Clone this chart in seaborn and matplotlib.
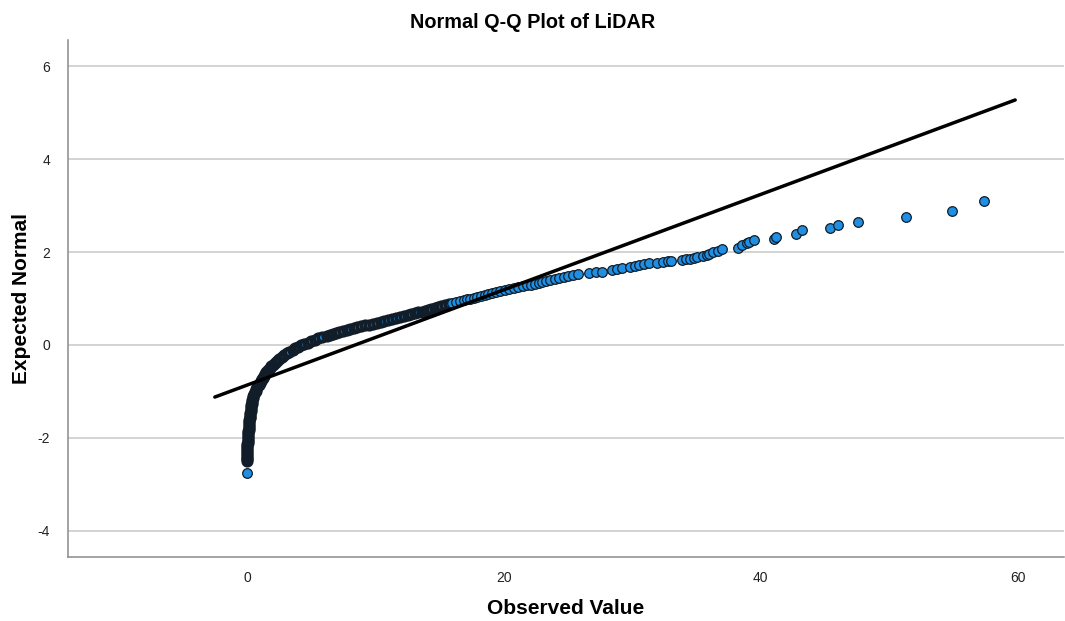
import matplotlib
matplotlib.use("Agg")
import matplotlib.pyplot as plt
import seaborn as sns
import pandas as pd

# ---- data ----
# dense lower band of points (observed value, expected normal)
obs_band = [0.00, 0.00, 0.01, 0.01, 0.01, 0.02, 0.02, 0.03, 0.03, 0.04, 0.05,
            0.06, 0.08, 0.09, 0.10, 0.11, 0.12, 0.13, 0.14, 0.15, 0.17, 0.18,
            0.19, 0.21, 0.23, 0.25, 0.27, 0.29, 0.31, 0.33, 0.35, 0.37, 0.39,
            0.42, 0.46, 0.50, 0.56, 0.61, 0.67, 0.74, 0.82, 0.90, 0.98, 1.06,
            1.14, 1.22, 1.31, 1.41, 1.52, 1.64, 1.76, 1.90, 2.04, 2.20, 2.36,
            2.53, 2.72, 2.90, 3.10, 3.30, 3.55, 3.75, 3.98, 4.22, 4.47, 4.73,
            5.00, 5.27, 5.55, 5.87, 6.20, 6.45, 6.70, 6.95, 7.20, 7.47, 7.75,
            8.02, 8.30, 8.60, 8.90, 9.20, 9.50, 9.80, 10.10, 10.40, 10.70,
            11.00, 11.30, 11.60, 11.90, 12.20, 12.50, 12.80, 13.10, 13.35,
            13.60, 13.85, 14.10, 14.35, 14.60, 14.85, 15.10, 15.40, 15.70]
exp_band = [-2.50, -2.46, -2.42, -2.38, -2.34, -2.30, -2.26, -2.22, -2.18, -2.14, -2.10,
            -2.06, -2.02, -1.98, -1.94, -1.90, -1.86, -1.82, -1.78, -1.74, -1.70, -1.66,
            -1.62, -1.58, -1.54, -1.50, -1.46, -1.42, -1.38, -1.34, -1.30, -1.26, -1.22,
            -1.18, -1.14, -1.10, -1.06, -1.02, -0.98, -0.94, -0.90, -0.86, -0.82, -0.78,
            -0.74, -0.70, -0.66, -0.62, -0.58, -0.54, -0.50, -0.46, -0.42, -0.38, -0.34,
            -0.30, -0.26, -0.22, -0.18, -0.14, -0.10, -0.07, -0.04, -0.01, 0.02, 0.05,
            0.08, 0.11, 0.14, 0.17, 0.20, 0.22, 0.24, 0.26, 0.28, 0.30, 0.32,
            0.34, 0.36, 0.38, 0.40, 0.42, 0.44, 0.46, 0.48, 0.50, 0.52,
            0.54, 0.56, 0.58, 0.60, 0.62, 0.64, 0.66, 0.68, 0.70,
            0.72, 0.74, 0.76, 0.78, 0.80, 0.82, 0.84, 0.86, 0.88]
# upper part of the band, the separate tail points and the lowest point
obs_upper = [0.00,
             16.00, 16.30, 16.60, 16.90, 17.15, 17.40, 17.65, 17.90, 18.20, 18.50,
             18.80, 19.10, 19.40, 19.70, 20.05, 20.40, 20.75, 21.10, 21.45, 21.80,
             22.10, 22.40, 22.70, 23.00, 23.30, 23.60, 23.95, 24.30, 24.65, 25.00,
             25.40, 25.80, 26.6, 27.2, 27.6, 28.4, 28.8, 29.2, 29.8, 30.2, 30.5,
             30.9, 31.3, 31.9, 32.4, 32.8, 33.0, 33.9, 34.2, 34.5, 34.8, 35.0,
             35.5, 35.8, 36.0, 36.3, 36.7, 37.0, 38.2, 38.5, 38.9, 39.1, 39.5,
             41.0, 41.2, 42.7, 43.2, 45.4, 46.0, 47.6, 51.3, 54.9, 57.4]
exp_upper = [-2.75,
             0.90, 0.92, 0.94, 0.96, 0.98, 1.00, 1.02, 1.04, 1.06, 1.08,
             1.10, 1.12, 1.14, 1.16, 1.18, 1.20, 1.22, 1.24, 1.26, 1.28,
             1.30, 1.32, 1.34, 1.36, 1.38, 1.40, 1.42, 1.44, 1.46, 1.48,
             1.50, 1.52, 1.54, 1.56, 1.58, 1.61, 1.63, 1.65, 1.68, 1.70, 1.72,
             1.74, 1.76, 1.77, 1.78, 1.80, 1.81, 1.83, 1.84, 1.86, 1.88, 1.90,
             1.91, 1.93, 1.96, 1.99, 2.03, 2.06, 2.09, 2.14, 2.19, 2.22, 2.26,
             2.29, 2.33, 2.39, 2.47, 2.51, 2.58, 2.65, 2.75, 2.88, 3.10]
# reference line end points
line_x = [-2.5, 59.8]
line_y = [-1.12, 5.27]

x_ticks = [0, 20, 40, 60]
y_ticks = [-4, -2, 0, 2, 4, 6]

title = "Normal Q-Q Plot of LiDAR"
x_label = "Observed Value"
y_label = "Expected Normal"

# ---- plotting ----
sns.set_style("white")
plt.rcParams["font.family"] = ["Liberation Sans", "DejaVu Sans"]
plt.rcParams["axes.unicode_minus"] = False
plt.rcParams["text.color"] = "black"
plt.rcParams["axes.labelcolor"] = "black"

df_band = pd.DataFrame({"obs": obs_band, "exp": exp_band})
df_upper = pd.DataFrame({"obs": obs_upper, "exp": exp_upper})
df_line = pd.DataFrame({"x": line_x, "y": line_y})

W, H = 1065, 621
fig = plt.figure(figsize=(W / 100, H / 100), dpi=100)
ax = fig.add_axes([68 / W, (H - 557) / H, (1064 - 68) / W, (557 - 40) / H])

ax.set_xlim(-13.93, 63.6)
ax.set_ylim(-4.56, 6.56)

for yv in y_ticks:
    ax.axhline(yv, color="#c8c8c8", linewidth=1.1, zorder=0)

fill = "#1e8fe3"
edge = "#111d28"

sns.scatterplot(data=df_band, x="obs", y="exp", ax=ax, s=38, color=fill,
                edgecolor=edge, linewidth=2.6, zorder=3, legend=False)
sns.scatterplot(data=df_upper, x="obs", y="exp", ax=ax, s=48, color=fill,
                edgecolor=edge, linewidth=0.9, zorder=3, legend=False)
sns.lineplot(data=df_line, x="x", y="y", ax=ax, color="black", linewidth=2.5,
             zorder=4, sort=False)

ax.set_xticks(x_ticks)
ax.set_yticks(y_ticks)
ax.tick_params(axis="both", length=0, labelsize=10, labelcolor="#222222")
ax.tick_params(axis="x", pad=10)
ax.tick_params(axis="y", pad=13)

for side in ["top", "right"]:
    ax.spines[side].set_visible(False)
for side in ["left", "bottom"]:
    ax.spines[side].set_color("#8a8a8a")
    ax.spines[side].set_linewidth(1.1)

ax.set_xlabel(x_label, fontsize=15, fontweight="bold", va="center")
ax.set_ylabel(y_label, fontsize=15, fontweight="bold", va="center")
ax.xaxis.set_label_coords(0.5, -(609 - 557) / (557 - 40))
ax.yaxis.set_label_coords(-(68 - 22) / (1064 - 68), 0.5)
fig.text(0.5, 1 - 22 / H, title, ha="center", va="center", fontsize=14.3,
         fontweight="bold")

fig.savefig("out.png", dpi=100)
